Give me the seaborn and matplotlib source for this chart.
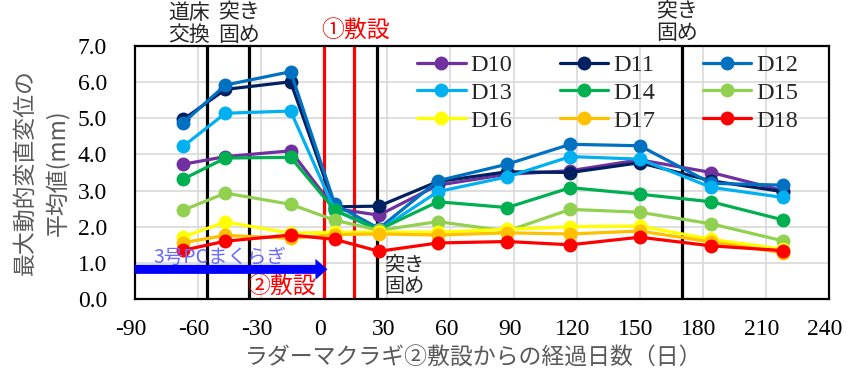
import matplotlib
matplotlib.use("Agg")
import matplotlib.pyplot as plt
import matplotlib.transforms as mtransforms
from matplotlib.lines import Line2D
from matplotlib.patches import FancyArrow
import seaborn as sns
import pandas as pd

# ---- data ----
days = [-67, -47, -16, 5, 26, 54, 87, 117, 150, 184, 218]
series_names = ["D10", "D11", "D12", "D13", "D14", "D15", "D16", "D17", "D18"]
D10 = [3.73, 3.94, 4.10, 2.50, 2.32, 3.15, 3.45, 3.55, 3.85, 3.50, 3.00]
D11 = [4.97, 5.80, 6.01, 2.55, 2.57, 3.25, 3.52, 3.50, 3.77, 3.27, 2.97]
D12 = [4.88, 5.92, 6.29, 2.62, 1.95, 3.27, 3.73, 4.28, 4.24, 3.20, 3.15]
D13 = [4.23, 5.14, 5.20, 2.45, 1.90, 2.97, 3.38, 3.94, 3.87, 3.09, 2.81]
D14 = [3.32, 3.90, 3.92, 2.46, 1.92, 2.69, 2.53, 3.08, 2.90, 2.69, 2.19]
D15 = [2.46, 2.93, 2.62, 2.18, 1.90, 2.14, 1.88, 2.48, 2.40, 2.08, 1.61]
D16 = [1.72, 2.13, 1.82, 1.85, 1.85, 1.85, 1.93, 2.00, 2.02, 1.65, 1.38]
D17 = [1.56, 1.76, 1.68, 1.78, 1.80, 1.77, 1.83, 1.80, 1.88, 1.58, 1.28]
D18 = [1.35, 1.60, 1.77, 1.65, 1.32, 1.55, 1.59, 1.50, 1.71, 1.47, 1.34]
series_values = [D10, D11, D12, D13, D14, D15, D16, D17, D18]
colors = ["#7030A0", "#002060", "#0070C0", "#00B0F0", "#00B050",
          "#92D050", "#FFFF00", "#FFC000", "#FF0000"]

black_events = [-56, -36, 25, 170]
red_events = [0, 14]
xticks = list(range(-90, 241, 30))
yticks = [0, 1, 2, 3, 4, 5, 6, 7]

rows = []
for name, vals in zip(series_names, series_values):
    for d, v in zip(days, vals):
        rows.append({"day": d, "value": v, "series": name})
df = pd.DataFrame(rows)

# ---- style ----
sns.set_theme(style="white")
plt.rcParams["font.family"] = ["Liberation Serif", "Noto Sans CJK JP"]
plt.rcParams["axes.unicode_minus"] = False
JP = ["Noto Sans CJK JP", "DejaVu Sans"]

fig = plt.figure(figsize=(8.67, 3.81), dpi=100)
ax = fig.add_axes([135 / 867, 1 - 299 / 381, (829 - 135) / 867, (299 - 46) / 381])

palette = dict(zip(series_names, colors))
sns.lineplot(data=df, x="day", y="value", hue="series", hue_order=series_names,
             palette=palette, marker="o", markersize=10, markeredgewidth=0,
             linewidth=2.3, legend=False, sort=False, errorbar=None, ax=ax, zorder=3)

for d in black_events:
    ax.axvline(d, color="black", lw=2.3, zorder=2)
for d in red_events:
    ax.axvline(d, color="#FF0000", lw=2.3, zorder=2)

ax.set_xlim(-90, 240)
ax.set_ylim(0, 7)
ax.set_xticks(xticks)
ax.set_yticks(yticks)
ax.set_yticklabels([f"{v:.1f}" for v in yticks])
ax.grid(True, color="#d9d9d9", lw=1.2, zorder=0)
ax.set_axisbelow(True)
for s in ax.spines.values():
    s.set_color("black")
    s.set_linewidth(1.6)
ax.tick_params(axis="both", length=0, labelsize=17, colors="black")
ax.tick_params(axis="y", pad=20)
ax.tick_params(axis="x", pad=14.5)
off = mtransforms.ScaledTranslation(-4 / 100, 0, fig.dpi_scale_trans)
for lab in ax.get_xticklabels():
    lab.set_transform(lab.get_transform() + off)

ax.set_xlabel("ラダーマクラギ②敷設からの経過日数（日）", family=JP, fontsize=16.5, color="#595959")
ax.xaxis.set_label_coords((474 - 135) / 694, -(347 - 299) / 253)
ax.set_ylabel("最大動的変直変位の\n平均値(mm)", family=JP, fontsize=16.5, color="#595959",
              linespacing=1.45)
ax.yaxis.set_label_coords(-(135 - 69) / 694, 0.5)

# legend (row-wise order)
handles = [Line2D([], [], color=c, marker="o", markersize=10, markeredgewidth=0, lw=2.3)
           for c in colors]
order = [0, 3, 6, 1, 4, 7, 2, 5, 8]
ax.legend([handles[i] for i in order], [series_names[i] for i in order], ncol=3,
          loc="upper left", bbox_to_anchor=(417 / 867, 1 - 54 / 381),
          bbox_transform=fig.transFigure, frameon=False, fontsize=17.5,
          handlelength=2.0, handletextpad=0.2, columnspacing=1.95,
          labelspacing=0.24, borderpad=0, borderaxespad=0)

# annotations
ax.text(-64.4, 7.62, "道床\n交換", family=JP, fontsize=15, ha="center", va="center",
        linespacing=1.0, clip_on=False)
ax.text(-40.6, 7.62, "突き\n固め", family=JP, fontsize=15, ha="center", va="center",
        linespacing=1.0, clip_on=False)
ax.text(167.7, 7.66, "突き\n固め", family=JP, fontsize=15, ha="center", va="center",
        linespacing=1.0, clip_on=False)
ax.text(14.9, 7.42, "①敷設", family=JP, fontsize=16.5, ha="center", va="center",
        color="#FF0000", clip_on=False)
ax.text(-20.2, 0.32, "②敷設", family=JP, fontsize=16.5, ha="center", va="center",
        color="#FF0000", zorder=5)
ax.text(38.1, 0.64, "突き\n固め", family=JP, fontsize=14.5, ha="center", va="center",
        linespacing=1.0, zorder=5)
ax.text(-49.7, 1.16, "3号PCまくらぎ", family=JP, fontsize=14, ha="center", va="center",
        color="#6a6aff", zorder=5)
ax.add_patch(FancyArrow(-90, 0.82, 91.5, 0, width=0.25, head_width=0.58, head_length=5.7,
                        length_includes_head=True, color="#0000FF", lw=0, zorder=6,
                        clip_on=False))

fig.savefig("out.png", dpi=100)
